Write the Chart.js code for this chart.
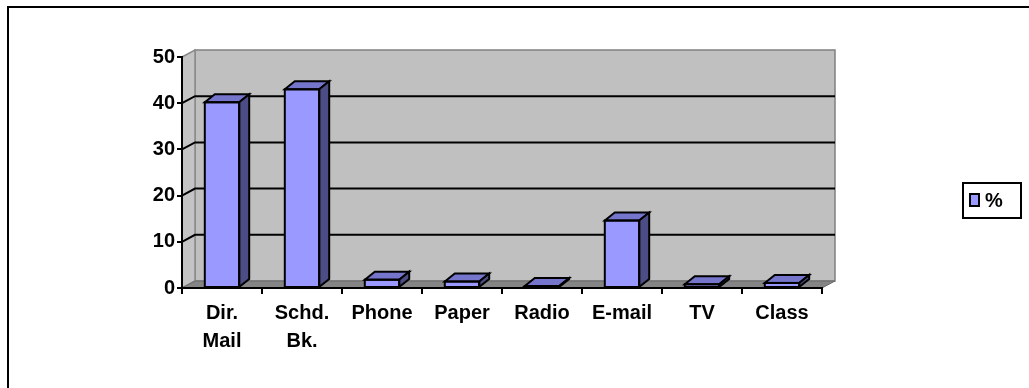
<!DOCTYPE html>
<html>
<head>
<meta charset="utf-8">
<style>
  html, body { margin: 0; padding: 0; background: #fff; }
  canvas { display: block; }
</style>
<script src="https://cdn.jsdelivr.net/npm/chart.js@4/dist/chart.umd.min.js"></script>
</head>
<body>
<canvas id="chart" width="1029" height="388"></canvas>
<script>
// Share of responses by information source (%)
const categories = [["Dir.", "Mail"], ["Schd.", "Bk."], "Phone", "Paper", "Radio", "E-mail", "TV", "Class"];
const percentValues = [40.2, 43.0, 1.8, 1.4, 0.2, 14.6, 0.8, 1.1];
const yTicks = [0, 10, 20, 30, 40, 50];
const seriesLabel = "%";

const FONT = { family: "'Liberation Sans', Arial, sans-serif", size: 20, weight: "bold" };
const DEPTH_X = 13, DEPTH_Y = 7;      // offset of the back wall
const BAR_DX = 10, BAR_DY = 8;        // depth of each bar

const FRONT = "#9999ff", TOP = "#7575cc", SIDE = "#4d4d85";

function poly(ctx, pts, fill, stroke, lw) {
  ctx.beginPath();
  ctx.moveTo(pts[0][0], pts[0][1]);
  for (let i = 1; i < pts.length; i++) ctx.lineTo(pts[i][0], pts[i][1]);
  ctx.closePath();
  if (fill) { ctx.fillStyle = fill; ctx.fill(); }
  if (stroke) { ctx.strokeStyle = stroke; ctx.lineWidth = lw || 1; ctx.lineJoin = "miter"; ctx.stroke(); }
}

const walls = {
  id: "walls",
  beforeDraw(chart) {
    const ctx = chart.ctx;
    const { left, right, top, bottom } = chart.chartArea;
    const y = chart.scales.y;
    ctx.save();
    ctx.fillStyle = "#fff";
    ctx.fillRect(0, 0, chart.width, chart.height);

    // frame
    ctx.strokeStyle = "#000";
    ctx.lineWidth = 2;
    ctx.beginPath();
    ctx.moveTo(8, chart.height + 5);
    ctx.lineTo(8, 7);
    ctx.lineTo(chart.width + 5, 7);
    ctx.stroke();

    const bl = left + DEPTH_X, br = right + DEPTH_X;
    const bt = top - DEPTH_Y, bb = bottom - DEPTH_Y;
    // back wall
    poly(ctx, [[bl, bt], [br, bt], [br, bb], [bl, bb]], "#c0c0c0", "#808080", 1.5);
    // side wall
    poly(ctx, [[left, top], [bl, bt], [bl, bb], [left, bottom]], "#c4c4c4", "#8a8a8a", 1.5);
    // floor
    poly(ctx, [[left, bottom], [bl, bb], [br, bb], [right, bottom]], "#858585", "#6a6a6a", 1);

    // gridlines on the side and back wall
    ctx.strokeStyle = "#000";
    ctx.lineWidth = 2;
    yTicks.forEach(v => {
      if (v === 0 || v === 50) return;
      const py = y.getPixelForValue(v);
      ctx.beginPath();
      ctx.moveTo(left, py);
      ctx.lineTo(bl, py - DEPTH_Y);
      ctx.lineTo(br, py - DEPTH_Y);
      ctx.stroke();
    });
    ctx.restore();
  },
  afterDatasetsDraw(chart) {
    const ctx = chart.ctx;
    const meta = chart.getDatasetMeta(0);
    ctx.save();
    meta.data.forEach(bar => {
      const l = bar.x - bar.width / 2, r = bar.x + bar.width / 2;
      const t = Math.min(bar.y, bar.base - 1), b = bar.base;
      // top face
      poly(ctx, [[l, t], [l + BAR_DX, t - BAR_DY], [r + BAR_DX, t - BAR_DY], [r, t]], TOP, "#000", 2);
      // side face
      poly(ctx, [[r, t], [r + BAR_DX, t - BAR_DY], [r + BAR_DX, b - BAR_DY], [r, b]], SIDE, "#000", 2);
      // front outline
      ctx.strokeStyle = "#000";
      ctx.lineWidth = 2;
      ctx.strokeRect(l, t, r - l, b - t);
    });
    ctx.restore();
  },
  afterDraw(chart) {
    // legend
    const ctx = chart.ctx;
    ctx.save();
    ctx.fillStyle = "#fff";
    ctx.fillRect(963, 183, 58, 35);
    ctx.strokeStyle = "#000";
    ctx.lineWidth = 2;
    ctx.strokeRect(963, 183, 58, 35);
    ctx.fillStyle = FRONT;
    ctx.fillRect(970, 194, 9, 12);
    ctx.strokeRect(970, 194, 9, 12);
    ctx.fillStyle = "#000";
    ctx.font = "bold 20px 'Liberation Sans', Arial, sans-serif";
    ctx.textBaseline = "middle";
    ctx.fillText(seriesLabel, 985, 201);
    ctx.restore();
  }
};

new Chart(document.getElementById("chart"), {
  type: "bar",
  data: {
    labels: categories,
    datasets: [{
      label: seriesLabel,
      data: percentValues,
      backgroundColor: FRONT,
      borderColor: "#000",
      borderWidth: 0,
      barPercentage: 0.43,
      categoryPercentage: 1.0
    }]
  },
  options: {
    responsive: false,
    animation: false,
    devicePixelRatio: 1,
    layout: { padding: { top: 57, left: 0, right: 207, bottom: 0 } },
    plugins: { legend: { display: false }, tooltip: { enabled: false } },
    scales: {
      x: {
        offset: true,
        afterFit(s) { s.height = 100; },
        grid: { offset: true, drawOnChartArea: false, drawTicks: true, tickLength: 6, color: "#000", lineWidth: 2 },
        border: { display: true, color: "#000", width: 2 },
        ticks: { color: "#000", font: { ...FONT, lineHeight: 1.4 }, padding: 5, maxRotation: 0, autoSkip: false }
      },
      y: {
        min: 0, max: 50,
        afterFit(s) { s.width = 182; },
        afterBuildTicks(s) { s.ticks = yTicks.map(v => ({ value: v })); },
        grid: { drawOnChartArea: false, drawTicks: true, tickLength: 5, color: "#000", lineWidth: 2 },
        border: { display: true, color: "#000", width: 2 },
        ticks: { color: "#000", font: FONT, padding: 2 }
      }
    }
  },
  plugins: [walls]
});
</script>
</body>
</html>
